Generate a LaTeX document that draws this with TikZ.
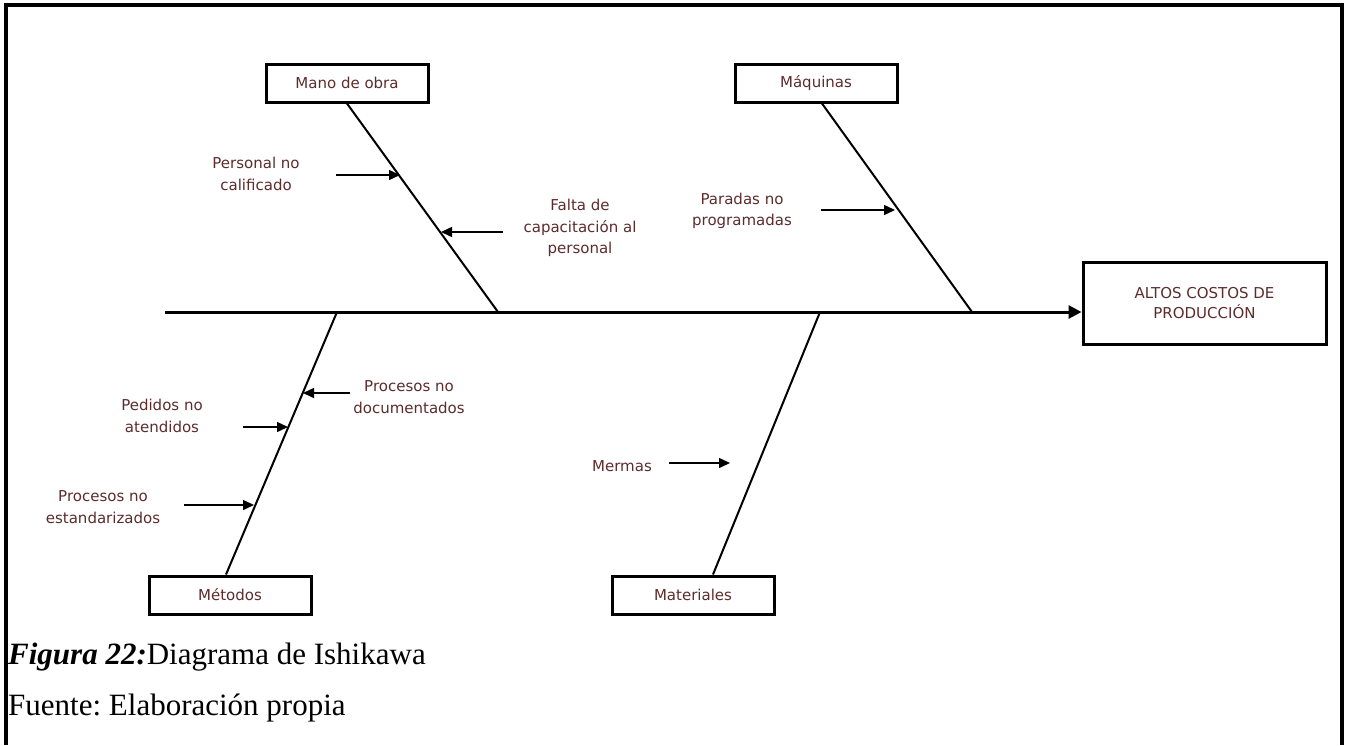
\documentclass[tikz,border=0pt]{standalone}
\usepackage{fontspec}
\setmainfont{Liberation Serif}
\newfontfamily\lblfont{DejaVu Sans}
\usetikzlibrary{arrows.meta}
\definecolor{lblbrown}{RGB}{92,44,44}
\frenchspacing
\begin{document}
\begin{tikzpicture}[x=1pt,y=-1pt,
  catbox/.style={draw=black, line width=3pt, minimum width=162pt, minimum height=38pt,
    inner sep=0pt, font=\lblfont\fontsize{15}{21}\selectfont, text=lblbrown},
  effectbox/.style={catbox, minimum width=243pt, minimum height=82pt, align=center,
    font=\lblfont\fontsize{15}{20}\selectfont},
  cause/.style={font=\lblfont\fontsize{15}{21.5}\selectfont, text=lblbrown, align=center, inner sep=0pt},
  spine/.style={line width=3pt, -{Triangle[length=13pt,width=13pt]}},
  bone/.style={line width=2pt},
  subarrow/.style={line width=1.5pt, -{Triangle[length=11pt,width=10pt]}},
  frame/.style={line width=3.2pt},
  caption/.style={anchor=base west, inner sep=0pt, font=\fontsize{31}{37}\selectfont}]
\useasboundingbox (0,0) rectangle (1349,745);

% outer frame (open at the bottom)
\draw[frame] (6,745) -- (6,5) -- (1342,5) -- (1342,745);

% category boxes and effect
\node[catbox] (mano) at (347,83) {Mano de obra};
\node[catbox] (maq) at (816,83) {Máquinas};
\node[catbox] (met) at (230,595) {Métodos};
\node[catbox] (mat) at (693,595) {Materiales};
\node[effectbox] (effect) at (1204.5,303) {ALTOS COSTOS DE\\PRODUCCIÓN};

% spine
\coordinate (tail) at (165,312);
\draw[spine] (tail) -- (effect.west |- tail);

% bones
\coordinate (jmano) at (498,312);
\coordinate (jmaq) at (972,312);
\coordinate (jmet) at (337,312);
\coordinate (jmat) at (820,312);
\draw[bone] (mano.south) -- (jmano);
\draw[bone] ([xshift=6pt]maq.south) -- (jmaq);
\draw[bone] (jmet) -- ([xshift=-4pt]met.north);
\draw[bone] (jmat) -- ([xshift=20pt]mat.north);

% causes
\node[cause] (c1) at (256,174) {Personal no\\calificado};
\coordinate (c1s) at (336,175); \coordinate (c1e) at (400,175);
\draw[subarrow] (c1s) -- (c1e);

\node[cause] (c2) at (580,228) {Falta de\\capacitación al\\personal};
\coordinate (c2s) at (503,232); \coordinate (c2e) at (441,232);
\draw[subarrow] (c2s) -- (c2e);

\node[cause] (c3) at (742,211) {Paradas no\\programadas};
\coordinate (c3s) at (821,210); \coordinate (c3e) at (895,210);
\draw[subarrow] (c3s) -- (c3e);

\node[cause] (c4) at (409,397) {Procesos no\\documentados};
\coordinate (c4s) at (350,393); \coordinate (c4e) at (303,393);
\draw[subarrow] (c4s) -- (c4e);

\node[cause] (c5) at (162,416) {Pedidos no\\atendidos};
\coordinate (c5s) at (243,427); \coordinate (c5e) at (288,427);
\draw[subarrow] (c5s) -- (c5e);

\node[cause] (c6) at (103,507) {Procesos no\\estandarizados};
\coordinate (c6s) at (184,505); \coordinate (c6e) at (254,505);
\draw[subarrow] (c6s) -- (c6e);

\node[cause] (c7) at (622,466) {Mermas};
\coordinate (c7s) at (669,463); \coordinate (c7e) at (730,463);
\draw[subarrow] (c7s) -- (c7e);

% caption
\node[caption] (fig) at (8,664) {\textbf{\textit{Figura 22:}}Diagrama de Ishikawa};
\node[caption] (src) at (8,715) {Fuente: Elaboración propia};
\end{tikzpicture}
\end{document}
